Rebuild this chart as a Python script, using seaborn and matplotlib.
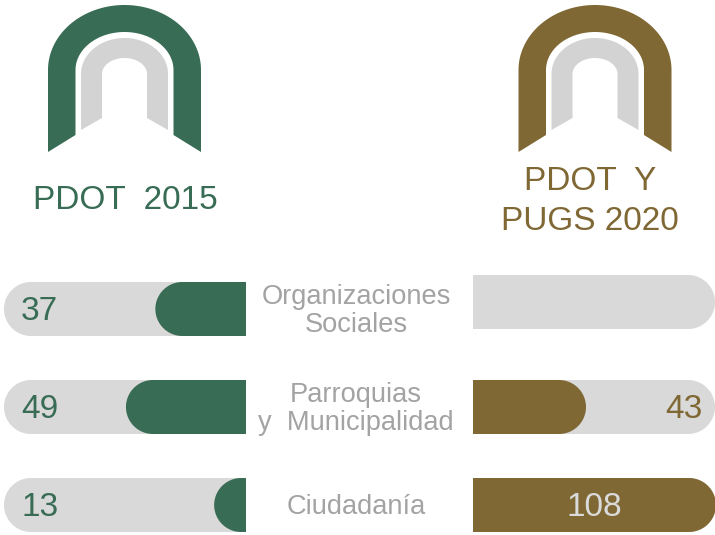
import numpy as np
import matplotlib
matplotlib.use("Agg")
import matplotlib.pyplot as plt
from matplotlib.patches import Polygon
from matplotlib.transforms import blended_transform_factory
import seaborn as sns

# ---------------- data ----------------
categories = ["Organizaciones\nSociales", "Parroquias\ny  Municipalidad", "Ciudadanía"]
values_2015 = [37, 49, 13]
values_2020 = [None, 43, 108]
title_left = "PDOT  2015"
title_right = "PDOT  Y\nPUGS 2020"

# ---------------- style ----------------
GREEN = "#386C54"
BROWN = "#7F6834"
TRACK = "#D9D9D9"
ARCH_GRAY = "#D3D3D3"
LABEL_GRAY = "#A3A3A3"
LIGHT_TXT = "#DADADA"

sns.set_style("white")
plt.rcParams["font.family"] = ["Liberation Sans", "DejaVu Sans"]

W, H = 715, 535
fig = plt.figure(figsize=(W / 100, H / 100), dpi=100)

# background axes in pixel coordinates (y downwards)
ax0 = fig.add_axes([0, 0, 1, 1])
ax0.set_xlim(0, W)
ax0.set_ylim(H, 0)
ax0.axis("off")


def arch(ax, cx, ho, hi, top_o, top_i, ys, yb_o, yb_i, color):
    t = np.linspace(np.pi, 0, 80)
    outer = np.c_[cx + ho * np.cos(t), ys - (ys - top_o) * np.sin(t)]
    inner = np.c_[cx + hi * np.cos(t[::-1]), ys - (ys - top_i) * np.sin(t[::-1])]
    pts = np.vstack([
        [[cx - ho, yb_o]],
        outer,
        [[cx + ho, yb_o], [cx + hi, yb_i]],
        inner,
        [[cx - hi, yb_i]],
    ])
    ax.add_patch(Polygon(pts, closed=True, facecolor=color, edgecolor="none"))


for cx, col in [(124.5, GREEN), (595.0, BROWN)]:
    arch(ax0, cx, 76.5, 49, 5, 32, 70, 152, 135, col)
    arch(ax0, cx, 43.5, 22.5, 38, 58, 74, 130, 118, ARCH_GRAY)

ax0.text(125.5, 209, title_left, color=GREEN, fontsize=24, ha="center", va="baseline")
ax0.text(590, 190, title_right.split("\n")[0], color=BROWN, fontsize=24, ha="center", va="baseline")
ax0.text(590, 230, title_right.split("\n")[1], color=BROWN, fontsize=24, ha="center", va="baseline")

# ---------------- bar panels ----------------
ROW0, STEP, BAR_H = 309, 98, 54  # pixel layout
PANEL_TOP = 265
ROW_SHIFT_R = [-7, 0, 0]          # px: right panel's first row sits slightly higher
y_top = -(ROW0 - PANEL_TOP) / STEP
y_bot = (len(categories) - 1) + (H - (ROW0 + STEP * (len(categories) - 1))) / STEP
panel_h = (H - PANEL_TOP) / H

L_X0, L_X1 = 4, 246
R_X0, R_X1 = 473, 715
axL = fig.add_axes([L_X0 / W, 0, (L_X1 - L_X0) / W, panel_h])
axR = fig.add_axes([R_X0 / W, 0, (R_X1 - R_X0) / W, panel_h])

L_SCALE = 2.45   # px per unit
R_SCALE = 2.0
L_MAX = (L_X1 - L_X0) / L_SCALE
R_MAX = (R_X1 - R_X0) / R_SCALE
bw = BAR_H / STEP

v20 = [0 if v is None else v for v in values_2020]

sns.barplot(x=[L_MAX] * 3, y=categories, orient="h", color=TRACK, saturation=1,
            width=bw, errorbar=None, ax=axL)
sns.barplot(x=values_2015, y=categories, orient="h", color=GREEN, saturation=1,
            width=bw, errorbar=None, ax=axL)
sns.barplot(x=[R_MAX] * 3, y=categories, orient="h", color=TRACK, saturation=1,
            width=bw, errorbar=None, ax=axR)
sns.barplot(x=v20, y=categories, orient="h", color=BROWN, saturation=1,
            width=bw, errorbar=None, ax=axR)

for ax in (axL, axR):
    ax.set_ylim(y_bot, y_top)
    ax.axis("off")
axL.set_xlim(L_MAX, 0)
axR.set_xlim(0, R_MAX)


def round_bar(ax, patch, side, extend=False, shift_px=0.0):
    x0, y0 = patch.get_x(), patch.get_y()
    w, h = patch.get_width(), patch.get_height()
    fc = patch.get_facecolor()
    patch.remove()
    if not np.isfinite(w) or w == 0:
        return
    c = ax.transData.transform([[x0, y0], [x0 + w, y0 + h]])
    xa, xb = sorted(c[:, 0])
    ya, yb = sorted(c[:, 1])
    ya -= shift_px
    yb -= shift_px
    r = (yb - ya) / 2
    yc = (ya + yb) / 2
    if side == "right":
        if extend:
            xb += r
        th = np.linspace(-np.pi / 2, np.pi / 2, 60)
        arc = np.c_[xb - r + r * np.cos(th), yc + r * np.sin(th)]
        pts = np.vstack([[[xa, ya]], arc, [[xa, yb]]])
    else:
        th = np.linspace(np.pi / 2, 3 * np.pi / 2, 60)
        arc = np.c_[xa + r + r * np.cos(th), yc + r * np.sin(th)]
        pts = np.vstack([[[xb, yb]], arc, [[xb, ya]]])
    dpts = ax.transData.inverted().transform(pts)
    ax.add_patch(Polygon(dpts, closed=True, facecolor=fc, edgecolor="none"))


n = len(categories)
pL = list(axL.patches)
for p in pL:
    round_bar(axL, p, "left")
pR = list(axR.patches)
for i, p in enumerate(pR):
    # display y grows upwards, so a negative pixel shift (upwards on image) => add
    round_bar(axR, p, "right", extend=(i >= n), shift_px=ROW_SHIFT_R[i % n])

# ---------------- labels ----------------
base_off = 11 / STEP
tL = blended_transform_factory(axL.transAxes, axL.transData)
tR = blended_transform_factory(axR.transAxes, axR.transData)
for i, v in enumerate(values_2015):
    axL.text((21 - L_X0) / (L_X1 - L_X0), i + base_off, str(v), transform=tL,
             color=GREEN, fontsize=24, ha="left", va="baseline")
for i, v in enumerate(values_2020):
    if v is None:
        continue
    yy = i + base_off + ROW_SHIFT_R[i] / STEP
    end_px = v * R_SCALE + BAR_H / 2
    if end_px > 0.8 * (R_X1 - R_X0):
        axR.text(0.5, yy, str(v), transform=tR, color=LIGHT_TXT,
                 fontsize=24, ha="center", va="baseline")
    else:
        axR.text((702 - R_X0) / (R_X1 - R_X0), yy, str(v), transform=tR,
                 color=BROWN, fontsize=24, ha="right", va="baseline")

for i, cat in enumerate(categories):
    ax0.text(356, ROW0 + STEP * i + 2, cat, color=LABEL_GRAY, fontsize=19.6,
             ha="center", va="center", multialignment="center", linespacing=1.15)

fig.savefig("out.png", dpi=100)
